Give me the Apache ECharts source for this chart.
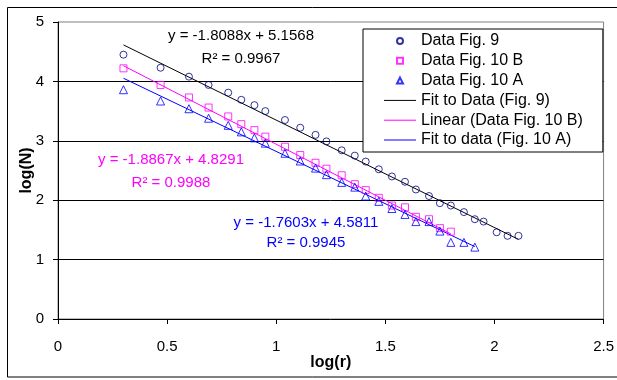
<!DOCTYPE html>
<html>
<head>
<meta charset="utf-8">
<script src="https://cdn.jsdelivr.net/npm/echarts@6/dist/echarts.min.js"></script>
<style>html,body{margin:0;padding:0;background:#fff;}#c{width:617px;height:380px;}</style>
</head>
<body>
<div id="c"></div>
<script>
// log(r) values shared by the three data sets
var logR = [0.30,0.47,0.60,0.69,0.78,0.84,0.90,0.95,1.04,1.11,1.18,1.23,1.30,1.36,1.41,1.47,1.53,1.59,1.64,1.70,1.75,1.80,1.86,1.91,1.95,2.01,2.06,2.11];
var fig9 = [4.45,4.23,4.08,3.94,3.81,3.69,3.60,3.50,3.35,3.22,3.10,2.99,2.84,2.75,2.65,2.52,2.40,2.31,2.18,2.07,1.95,1.91,1.80,1.68,1.64,1.46,1.40,1.40];
var fig10B = [4.22,3.94,3.73,3.56,3.41,3.28,3.18,3.07,2.90,2.76,2.63,2.53,2.42,2.27,2.17,2.04,1.91,1.88,1.72,1.68,1.53,1.47];
var fig10A = [3.86,3.67,3.54,3.38,3.26,3.15,3.05,2.96,2.79,2.66,2.54,2.43,2.30,2.22,2.07,1.98,1.86,1.76,1.64,1.64,1.48,1.29,1.29,1.21];
// trendline coefficients (slope, intercept) and R^2 as printed on the chart
var fitSlopes = [-1.8088,-1.8867,-1.7603];
var fitIntercepts = [5.1568,4.8291,4.5811];
var fitR2 = ['0.9967','0.9988','0.9945'];
var seriesNames = ['Data Fig. 9','Data Fig. 10 B','Data Fig. 10 A'];
var fitNames = ['Fit to Data (Fig. 9)','Linear (Data Fig. 10 B)','Fit to data (Fig. 10 A)'];
var xTicks = ['0','0.5','1','1.5','2','2.5'];

var FONT = 'Arial, "Liberation Sans", sans-serif';
var dataSets = [fig9, fig10B, fig10A];
var markerColors = ['#000080','#FF00FF','#0000FF'];
var lineColors = ['#000000','#FF00FF','#0000FF'];
var symbols = ['circle','rect','triangle'];
var symSizes = [7,7,8];
var legendIcons = ['circle','path://M0,0H10V10H0Z','path://M5,0L10,10H0Z'];
var lineIcon = 'path://M0,0H32V1H0Z';

function pairs(ys){ return ys.map(function(y,i){ return [logR[i], y]; }); }
function fitLine(k){
  var n = dataSets[k].length;
  var x0 = logR[0], x1 = logR[n-1];
  return [[x0, fitSlopes[k]*x0+fitIntercepts[k]],[x1, fitSlopes[k]*x1+fitIntercepts[k]]];
}
var series = [];
for (var k=0;k<3;k++){
  series.push({
    name: seriesNames[k], type:'scatter', data: pairs(dataSets[k]),
    symbol: symbols[k], symbolSize: symSizes[k], z: 5,
    itemStyle:{color:'rgba(0,0,0,0)', borderColor: markerColors[k], borderWidth:1}
  });
}
for (var k=0;k<3;k++){
  series.push({
    name: fitNames[k], type:'line', data: fitLine(k), symbol:'none', z: 3,
    lineStyle:{color: lineColors[k], width:1}, itemStyle:{color: lineColors[k]}
  });
}
function eqText(k){
  return 'y = ' + fitSlopes[k].toFixed(4) + 'x + ' + fitIntercepts[k].toFixed(4);
}
var labelPos = [[241,35.5,58.5],[171,159.5,182.5],[306,222.5,243]];
var graphics = [{type:'rect', shape:{x:7.5,y:7.5,width:640,height:369.5}, style:{stroke:'#000',fill:'none',lineWidth:1}, z:100, silent:true}];
for (var k=0;k<3;k++){
  graphics.push({type:'text', x:labelPos[k][0], y:labelPos[k][1], z:50,
    style:{text:eqText(k), font:'15px '+FONT, fill:lineColors[k], align:'center', verticalAlign:'middle'}});
  graphics.push({type:'text', x:labelPos[k][0], y:labelPos[k][2], z:50,
    style:{text:'R\u00B2 = '+fitR2[k], font:'15px '+FONT, fill:lineColors[k], align:'center', verticalAlign:'middle'}});
}
var legendData = [];
for (var k=0;k<3;k++){ legendData.push({name:seriesNames[k], icon:legendIcons[k]}); }
for (var k=0;k<3;k++){ legendData.push({name:fitNames[k], icon:lineIcon, itemStyle:{color:lineColors[k], borderWidth:0}}); }

var chart = echarts.init(document.getElementById('c'), null, {renderer:'canvas'});
chart.setOption({
  animation:false,
  backgroundColor:'#fff',
  textStyle:{fontFamily:FONT},
  grid:{left:58, right:12, top:22, bottom:61, show:true, borderColor:'#808080', borderWidth:1, backgroundColor:'transparent'},
  xAxis:{type:'value', min:0, max:2.5, interval:0.5,
    name:'log(r)', nameLocation:'middle', nameGap:36, nameMoveOverlap:false,
    nameTextStyle:{fontSize:16, fontWeight:'bold', color:'#000', fontFamily:FONT},
    axisLine:{lineStyle:{color:'#000',width:1}},
    axisTick:{show:true, inside:false, length:5, lineStyle:{color:'#000'}},
    axisLabel:{margin:20, fontSize:15, color:'#000', fontFamily:FONT, formatter:function(v){ var i=Math.round(v/0.5); return xTicks[i]; }},
    splitLine:{show:false}},
  yAxis:{type:'value', min:0, max:5, interval:1,
    name:'log(N)', nameLocation:'middle', nameGap:23, nameMoveOverlap:false,
    nameTextStyle:{fontSize:16, fontWeight:'bold', color:'#000', fontFamily:FONT},
    axisLine:{show:true, lineStyle:{color:'#000',width:1}},
    axisTick:{show:true, inside:false, length:5, lineStyle:{color:'#000'}},
    axisLabel:{margin:14, fontSize:15, color:'#000', fontFamily:FONT},
    splitLine:{show:true, showMaxLine:false, showMinLine:false, lineStyle:{color:'#000', width:1}}},
  legend:{show:true, orient:'vertical', left:363, top:29, selectedMode:false,
    padding:[4,20,4,21], itemGap:3.8, itemWidth:32, itemHeight:6, symbolKeepAspect:true,
    backgroundColor:'#fff', borderColor:'#000', borderWidth:1,
    textStyle:{fontSize:16, color:'#000', fontFamily:FONT},
    data: legendData},
  series: series,
  graphic: graphics
});
</script>
</body>
</html>
